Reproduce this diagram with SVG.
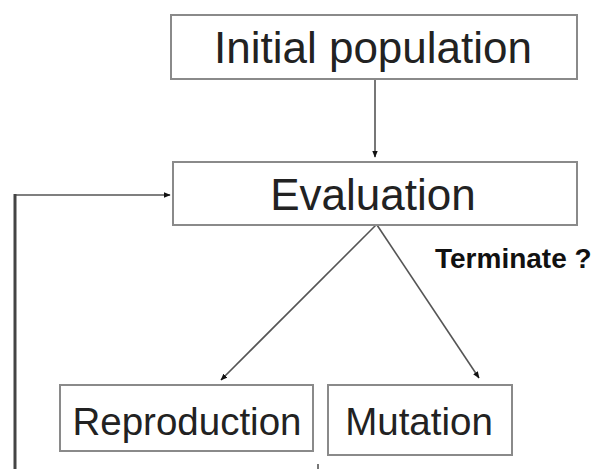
<svg xmlns="http://www.w3.org/2000/svg" width="603" height="469" viewBox="0 0 603 469">
<style>
.box{fill:#fff;stroke:#8a8a8a;stroke-width:2}
.lbl{font-family:"Liberation Sans",Arial,sans-serif;fill:#222;text-anchor:middle}
.ln{fill:none;stroke:#555;stroke-width:1.6}
</style>
<defs>
<marker id="ah" viewBox="0 0 10 10" refX="9" refY="5" markerWidth="7" markerHeight="7" markerUnits="userSpaceOnUse" orient="auto">
<path d="M0,1 L10,5 L0,9 Z" fill="#111"/>
</marker>
</defs>
<rect width="603" height="469" fill="#fff"/>
<g id="connectors">
<line class="ln" x1="375" y1="79" x2="375" y2="157" marker-end="url(#ah)"/>
<line class="ln" x1="376" y1="225" x2="221" y2="380" marker-end="url(#ah)"/>
<line class="ln" x1="377" y1="225" x2="479" y2="378" marker-end="url(#ah)"/>
<line class="ln" x1="15" y1="195" x2="170" y2="195" marker-end="url(#ah)"/>
<line x1="15" y1="194" x2="15" y2="469" stroke="#444" stroke-width="3"/>
<line x1="318" y1="464" x2="318" y2="469" stroke="#555" stroke-width="1.6"/>
</g>
<g id="initial">
<rect class="box" x="171" y="15" width="406" height="64"/>
<text class="lbl" x="373" y="63" font-size="44">Initial population</text>
</g>
<g id="evaluation">
<rect class="box" x="173" y="162" width="404" height="63"/>
<text class="lbl" x="373" y="210" font-size="44">Evaluation</text>
</g>
<g id="terminate">
<text x="435" y="268" font-family="Liberation Sans,Arial,sans-serif" font-weight="bold" font-size="28" fill="#111">Terminate ?</text>
</g>
<g id="reproduction">
<rect class="box" x="60" y="385" width="253" height="66"/>
<text class="lbl" x="187" y="435" font-size="38.5">Reproduction</text>
</g>
<g id="mutation">
<rect class="box" x="328" y="385" width="184" height="70"/>
<text class="lbl" x="419" y="435" font-size="38.5">Mutation</text>
</g>
</svg>
